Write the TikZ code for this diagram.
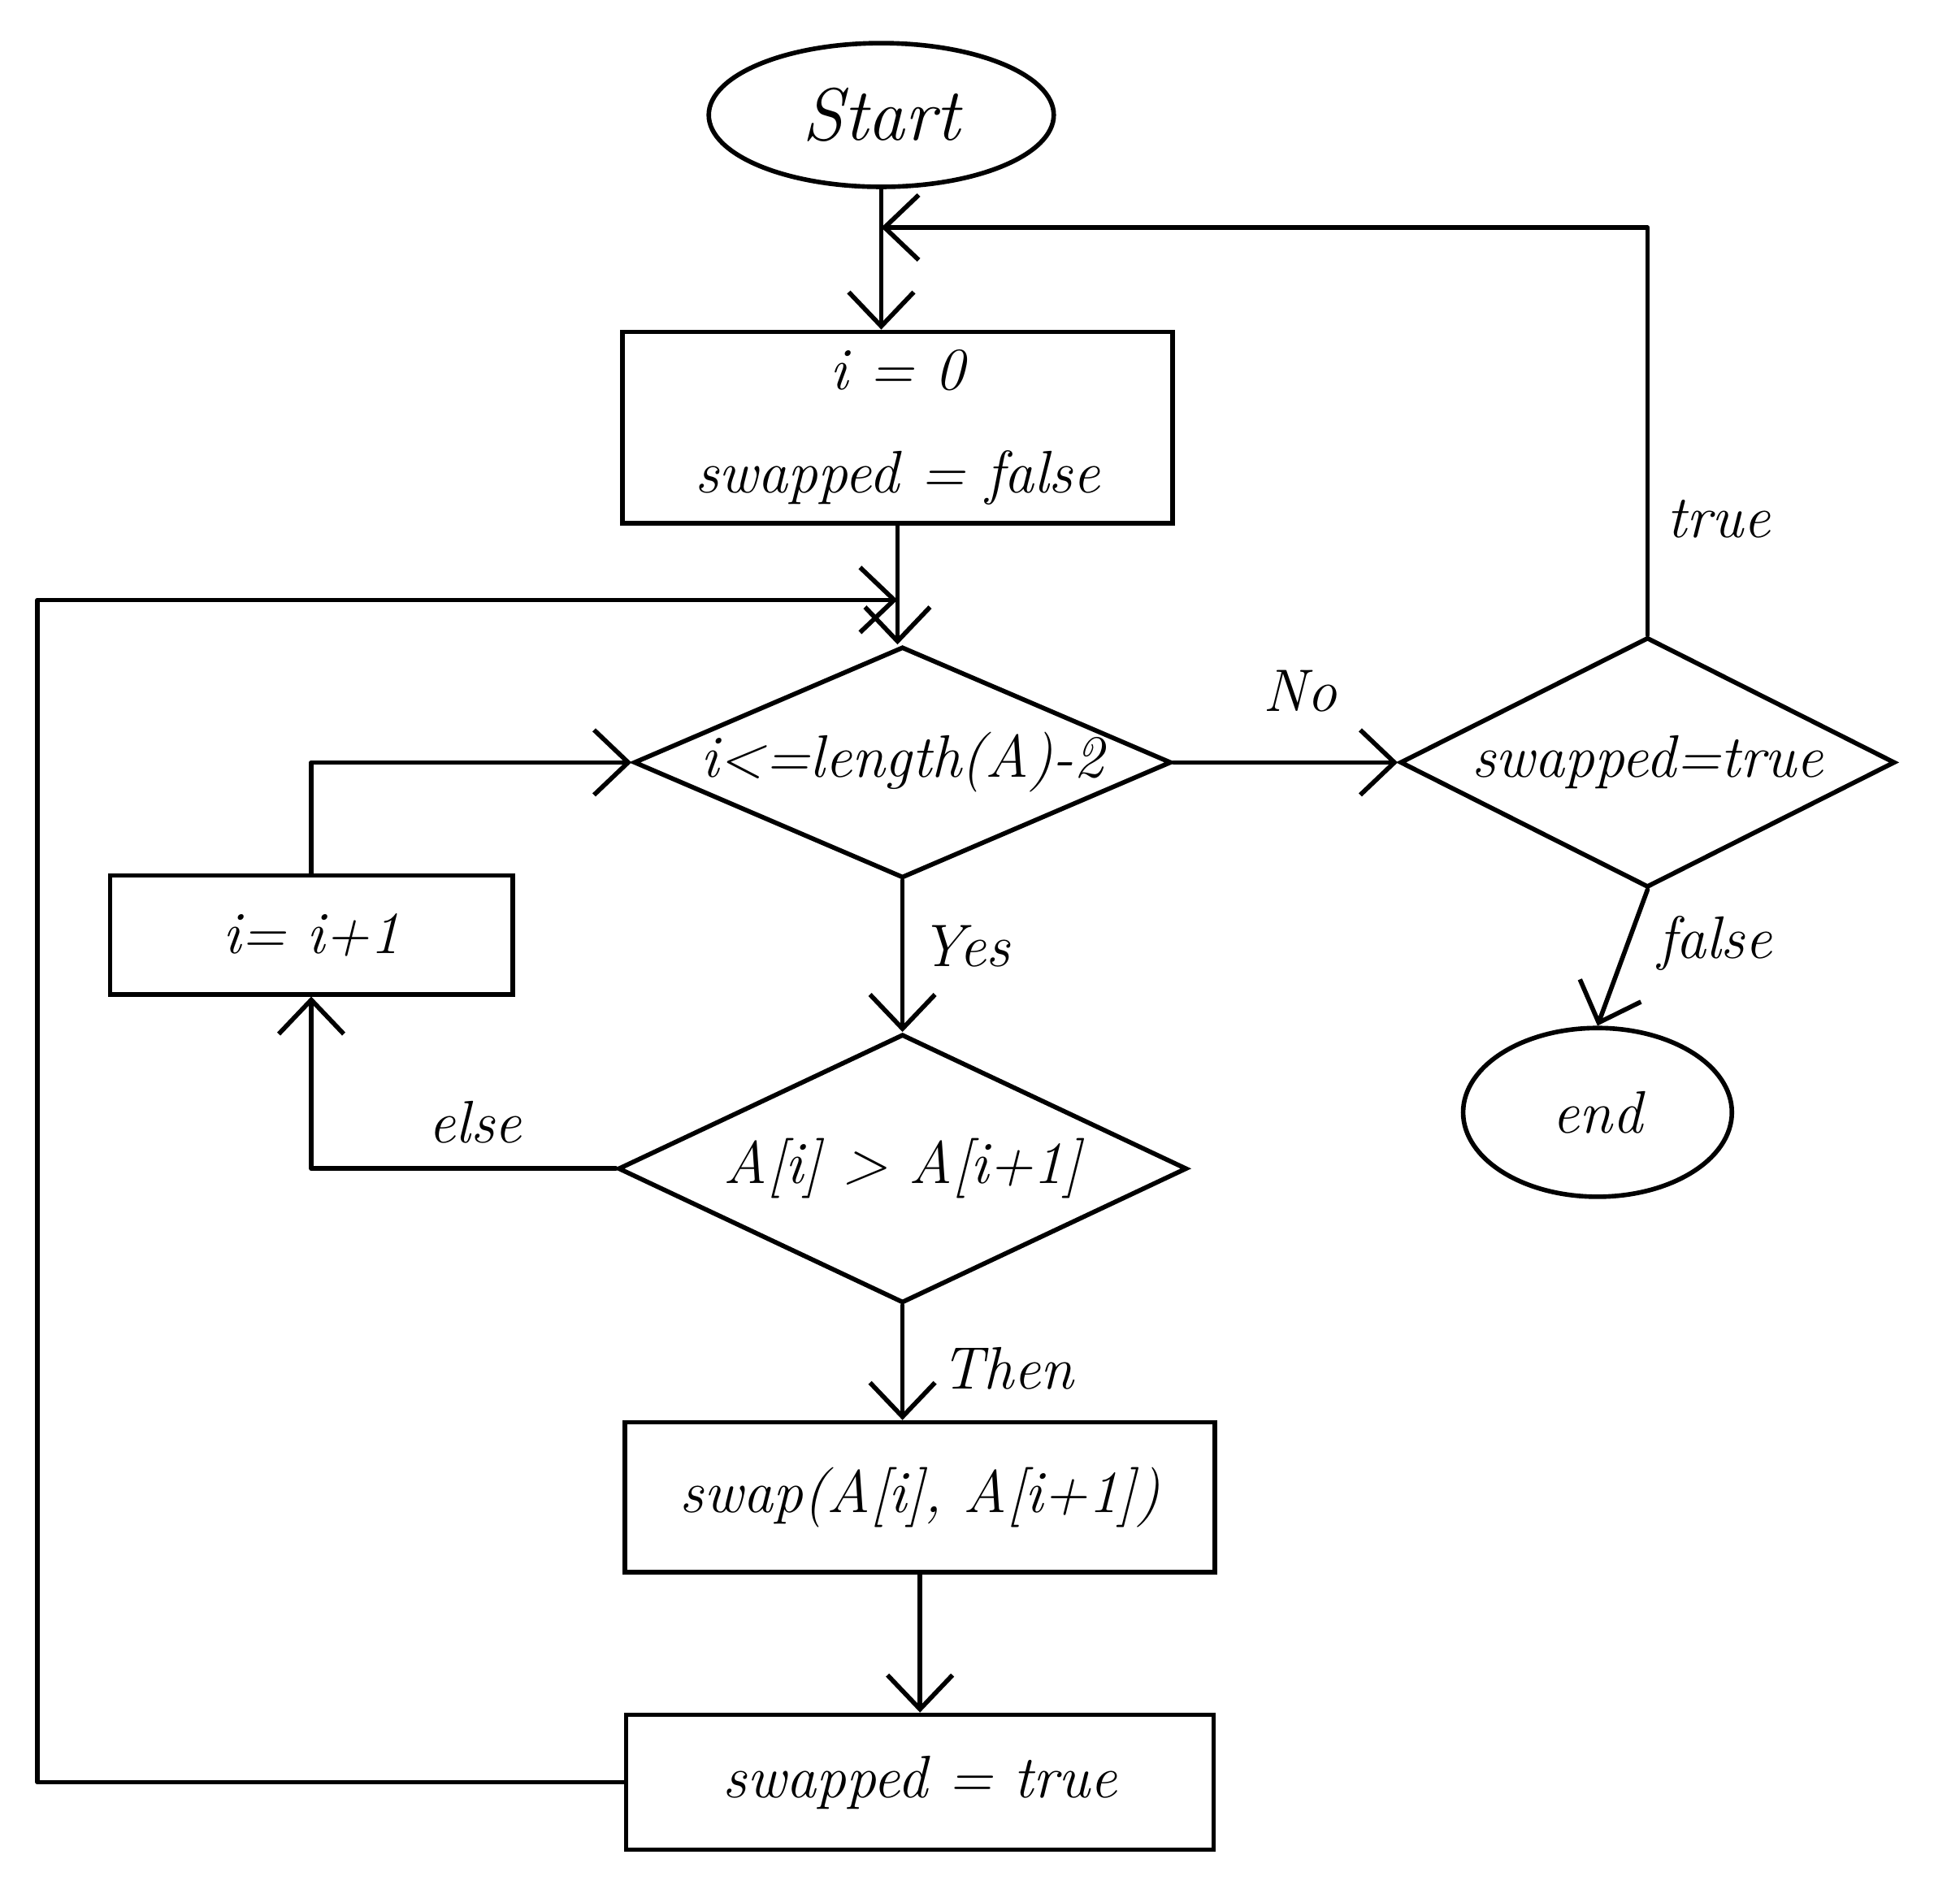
\documentclass[tikz,border=0pt]{standalone}
\usetikzlibrary{shapes.geometric,arrows.meta}
\newcommand{\pu}{0.015383cm}
\newcommand{\txt}{\fontsize{21}{27}\selectfont\itshape}
\begin{document}
\begin{tikzpicture}[x=0.015383cm,y=-0.015383cm,line width=1.6pt,
  box/.style={draw,rectangle,inner sep=0pt,font=\txt},
  term/.style={draw,ellipse,inner sep=0pt,font=\txt},
  dec/.style={draw,diamond,inner sep=0pt,label={[font=\txt]center:#1}},
  lab/.style={font=\txt},
  arr/.style={-{Straight Barb[length=0.42cm,width=0.8cm,line width=1.6pt]},line cap=round,line join=round}]
\useasboundingbox (0,0) rectangle (1568,1518);
\node[term,minimum width=276*\pu,minimum height=115*\pu,font=\fontsize{26}{30}\selectfont\itshape] (start) at (705,92) {Start};
\node[box,minimum width=440*\pu,minimum height=153*\pu,align=center] (init) at (718,342) {i = 0\\[9pt]swapped = false};
\node[dec={i<=length(A)-2},minimum width=430*\pu,minimum height=185*\pu] (d1) at (722,610) {};
\node[dec={swapped=true},minimum width=396*\pu,minimum height=200*\pu] (d2) at (1318,610) {};
\node[term,minimum width=215*\pu,minimum height=135*\pu] (end) at (1278,890) {end};
\node[box,minimum width=322*\pu,minimum height=95*\pu] (incr) at (249,748) {i= i+1};
\node[dec={A[i] > A[i+1]},minimum width=455*\pu,minimum height=215*\pu] (d3) at (722,935) {};
\node[box,minimum width=472*\pu,minimum height=120*\pu] (swap) at (736,1198) {swap(A[i], A[i+1])};
\node[box,minimum width=470*\pu,minimum height=108*\pu] (swapped) at (736,1426) {swapped = true};
\coordinate (j1) at (705,182);
\coordinate (lc) at (30,480);
\coordinate (j2) at (718,480);
% connectors
\draw[arr] (start.south) -- (start.south |- init.north);
\draw[arr] (d2.north) |- (j1);
\draw[arr] (init.south) -- (init.south |- d1.north);
\draw[arr] (swapped.west) -| (lc) -- (j2);
\draw[arr] (d1.east) -- (d2.west);
\draw[arr] (d2.south) -- (end.north);
\draw[arr] (d1.south) -- (d3.north);
\draw[arr] (d3.west) -| (incr.south);
\draw[arr] (incr.north) |- (d1.west);
\draw[arr] (d3.south) -- (d3.south |- swap.north);
\draw[arr] (swap.south) -- (swapped.north);
% labels
\node[lab] (lno) at (1040,553) {No};
\node[lab] (ltrue) at (1375,415) {true};
\node[lab] (lfalse) at (1372,755) {false};
\node[lab] (lyes) at (772,757) {Yes};
\node[lab] (lelse) at (380,898) {else};
\node[lab] (lthen) at (806,1095) {Then};
\end{tikzpicture}
\end{document}
